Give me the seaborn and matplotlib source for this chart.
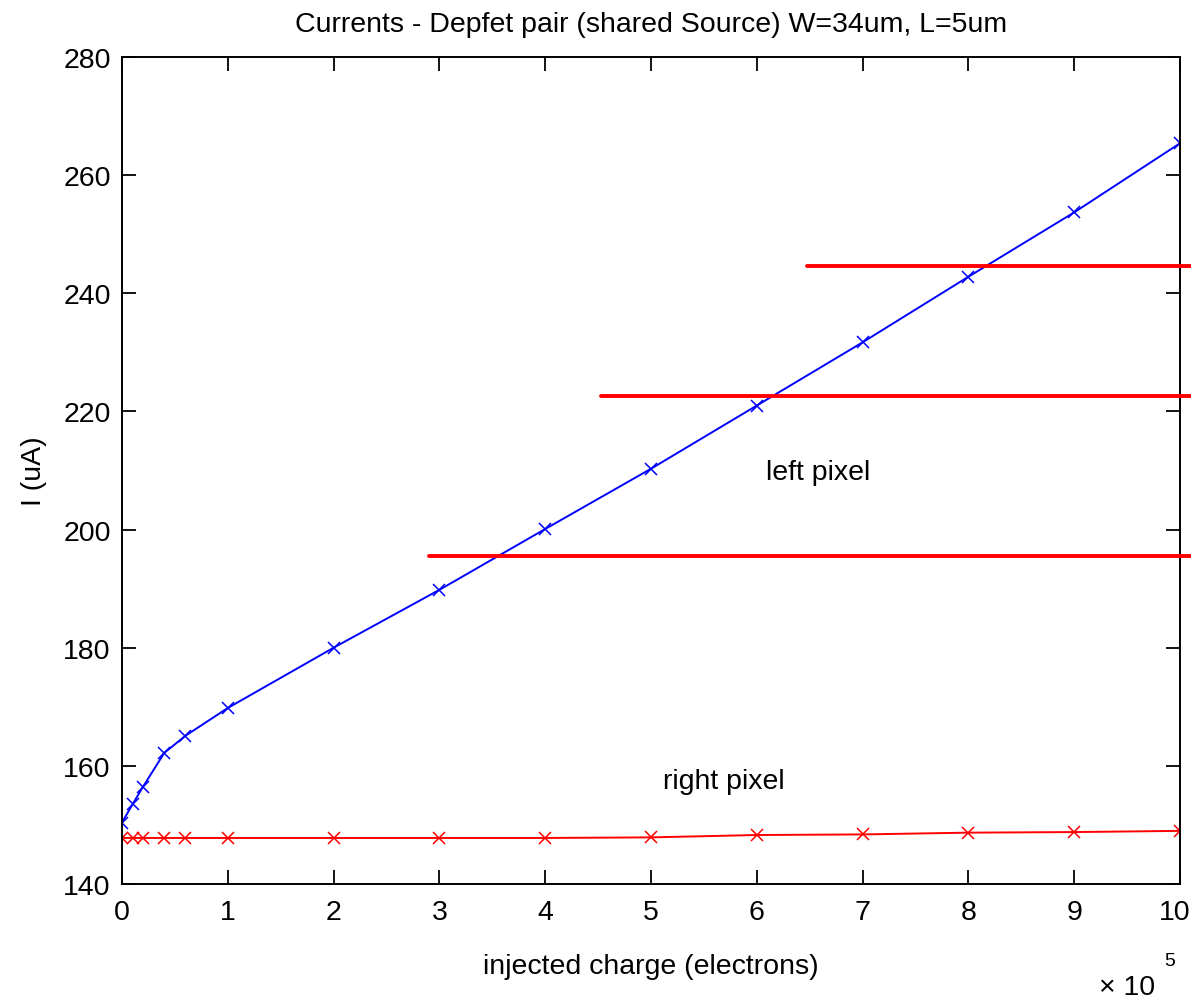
import matplotlib
matplotlib.use("Agg")
import matplotlib.pyplot as plt
import matplotlib.transforms as mtrans
import seaborn as sns
import pandas as pd

# injected charge in units of 1e5 electrons
charge = [0, 0.1, 0.2, 0.4, 0.6, 1, 2, 3, 4, 5, 6, 7, 8, 9, 10]
left_pixel = [150.4, 153.5, 156.5, 162.2, 165.1, 169.8, 180.0, 189.8,
              200.1, 210.3, 221.0, 231.7, 242.8, 253.7, 265.4]
right_pixel = [147.8, 147.8, 147.8, 147.8, 147.8, 147.8, 147.8, 147.8,
               147.8, 147.9, 148.3, 148.4, 148.7, 148.8, 149.0]

# red reference levels drawn over the plot (uA) and their start charge
level_values = [244.6, 222.6, 195.5]
level_starts = [6.47, 4.53, 2.90]

xticks = list(range(0, 11))
yticks = list(range(140, 281, 20))

sns.set_style("white")
plt.rcParams['font.family'] = ['Liberation Sans', 'DejaVu Sans']
plt.rcParams['text.color'] = 'black'
plt.rcParams['axes.labelcolor'] = 'black'

FS = 20.5

fig = plt.figure(figsize=(11.91, 10.03), dpi=100)
ax = fig.add_axes([0.1024, 0.1176, 0.8884, 0.8246])

df = pd.DataFrame({"charge": charge, "left": left_pixel, "right": right_pixel})
sns.lineplot(data=df, x="charge", y="left", ax=ax, color="#0000ff",
             marker="x", markersize=9, markeredgewidth=1.1,
             markeredgecolor="#0000ff", linewidth=1.4)
sns.lineplot(data=df, x="charge", y="right", ax=ax, color="#ff0000",
             marker="x", markersize=9, markeredgewidth=1.1,
             markeredgecolor="#ff0000", linewidth=1.4)

for lv, st in zip(level_values, level_starts):
    ax.plot([st, 10.15], [lv, lv], color="#ff0000", linewidth=2.8,
            clip_on=False, zorder=5)

ax.set_xlim(0, 10)
ax.set_ylim(140, 280)
ax.set_xticks(xticks)
ax.set_yticks(yticks)
ax.set_xticklabels([str(t) for t in xticks])
ax.set_yticklabels([str(t) for t in yticks])
ax.tick_params(direction="in", length=10, width=1.3, top=True, right=True,
               bottom=True, left=True, labelsize=FS, colors="black")
ax.tick_params(axis="x", pad=11)
ax.tick_params(axis="y", pad=8)
for s in ax.spines.values():
    s.set_linewidth(1.4)
    s.set_color("black")

# keep the last x tick label inside the figure
last = ax.get_xticklabels()[-1]
last.set_horizontalalignment("right")
last.set_transform(last.get_transform() +
                   mtrans.ScaledTranslation(10 / 100, 0, fig.dpi_scale_trans))

ax.set_xlabel("injected charge (electrons)", fontsize=FS, labelpad=20)
ax.set_ylabel("I (uA)", fontsize=FS, labelpad=12)
ax.set_title("Currents - Depfet pair (shared Source) W=34um, L=5um",
             fontsize=FS, pad=19)

ax.text(6.58, 209.7, "left pixel", fontsize=FS, ha="center", va="center")
ax.text(5.69, 157.4, "right pixel", fontsize=FS, ha="center", va="center")

fig.text(1127 / 1191, 1 - 988 / 1003, "\u00d7 10", fontsize=FS,
         ha="center", va="center")
fig.text(1170 / 1191, 1 - 962 / 1003, "5", fontsize=14,
         ha="center", va="center")

fig.savefig("out.png", dpi=100, facecolor="white")
